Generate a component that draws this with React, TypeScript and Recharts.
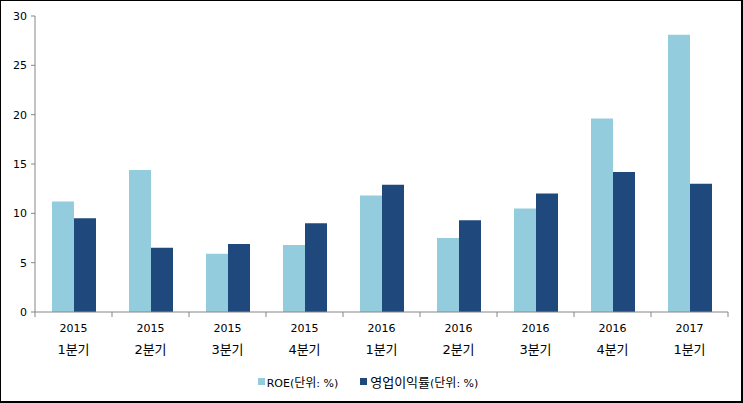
import React from 'react'
import { BarChart, Bar, XAxis, YAxis, Legend } from 'recharts';

const years: string[] = ['2015', '2015', '2015', '2015', '2016', '2016', '2016', '2016', '2017'];
const quarters: string[] = ['1분기', '2분기', '3분기', '4분기', '1분기', '2분기', '3분기', '4분기', '1분기'];
const roe: number[] = [11.2, 14.4, 5.9, 6.8, 11.8, 7.5, 10.5, 19.6, 28.1];
const opMargin: number[] = [9.5, 6.5, 6.9, 9.0, 12.9, 9.3, 12.0, 14.2, 13.0];
const yTicks: number[] = [0, 5, 10, 15, 20, 25, 30];

const data = years.map((y, i) => ({
    name: `${y}|${quarters[i]}`,
    roe: roe[i],
    op: opMargin[i],
}));

const font = "'DejaVu Sans', 'Noto Sans CJK KR', sans-serif";
const axisColor = '#868686';
const colors: string[] = ['#93CDDD', '#1F497D'];
const chartW = 743;
const plotLeft = 35;
const plotRight = 15;
const bandW = (chartW - plotLeft - plotRight) / years.length;

const CategoryTick = (props: any) => {
    const { x, y, payload, index } = props;
    const [yr, q] = String(payload.value).split('|');
    const left = x - bandW / 2;
    const top = y - 5;
    return (
        <g>
            <line x1={left} y1={top} x2={left} y2={top + 5} stroke={axisColor} />
            {index === years.length - 1 && (
                <line x1={left + bandW} y1={top} x2={left + bandW} y2={top + 5} stroke={axisColor} />
            )}
            <text x={x} y={y} textAnchor="middle" fontSize={11} fill="#000" fontFamily={font}>
                <tspan x={x} dy={15}>{yr}</tspan>
                <tspan x={x} dy={22} fontSize={13}>{q}</tspan>
            </text>
        </g>
    );
};

const LegendContent = () => (
    <div style={{ display: 'flex', justifyContent: 'center', fontFamily: font, fontSize: 11, color: '#000', height: 20, alignItems: 'center', paddingLeft: 8 }}>
        <span style={{ display: 'inline-block', width: 7, height: 7, background: colors[0], marginRight: 2 }} />
        <span style={{ marginRight: 22 }}>ROE(<span style={{ fontSize: 12 }}>단위</span>: %)</span>
        <span style={{ display: 'inline-block', width: 7, height: 7, background: colors[1], marginRight: 3 }} />
        <span><span style={{ fontSize: 13 }}>영업이익률</span>(<span style={{ fontSize: 12 }}>단위</span>: %)</span>
    </div>
);

export default function App() {
    return (
        <div style={{ position: 'absolute', left: 0, top: 0, width: 743, height: 403, background: '#fff' }}>
            <BarChart width={743} height={403} data={data} margin={{ top: 16, right: plotRight, left: 0, bottom: 12 }} barGap={0} barSize={22}>
                <XAxis dataKey="name" height={59} stroke={axisColor} tickLine={false} tickSize={5} tickMargin={0} tick={<CategoryTick />} interval={0} />
                <YAxis width={plotLeft} domain={[0, 30]} ticks={yTicks} stroke={axisColor} tickSize={4} tickMargin={4}
                    tick={{ fontSize: 11, fill: '#000', fontFamily: font }} />
                <Legend verticalAlign="bottom" height={20} content={<LegendContent />} />
                <Bar dataKey="roe" name="ROE(단위: %)" fill={colors[0]} isAnimationActive={false} />
                <Bar dataKey="op" name="영업이익률(단위: %)" fill={colors[1]} isAnimationActive={false} />
            </BarChart>
            <div style={{ position: 'absolute', left: 0, top: 0, width: 743, height: 403, boxSizing: 'border-box', borderTop: '1px solid #000', borderLeft: '1px solid #000', borderRight: '2px solid #000', borderBottom: '2px solid #000', pointerEvents: 'none' }} />
        </div>
    );
}
